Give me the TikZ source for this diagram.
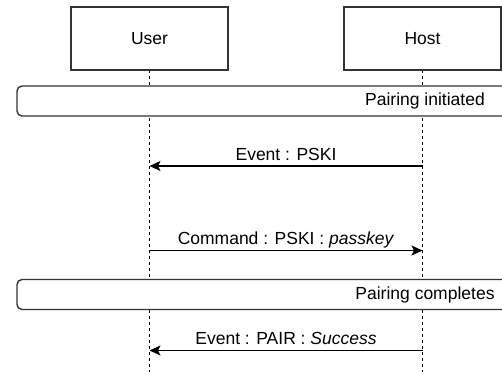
\documentclass[tikz,border=0pt]{standalone}
\usepackage{fontspec}
\setmainfont{Liberation Sans}
\usetikzlibrary{arrows.meta}
\begin{document}
\begin{tikzpicture}[x=1pt,y=-1pt,
  every node/.style={font=\fontsize{17.5}{21}\selectfont, text=black},
  actor/.style={draw=black!80, line width=1.4pt, fill=white, minimum width=157pt, minimum height=63pt, inner sep=0pt},
  grp/.style={draw=black!80, line width=1.4pt, fill=white, rounded corners=5pt, minimum width=816pt, minimum height=30pt, inner sep=0pt},
  life/.style={draw=black, line width=0.9pt, dash pattern=on 3pt off 3pt},
  msg/.style={draw=black, line width=1.4pt, -{Stealth[length=11pt,width=10pt,inset=2.5pt]}},
  lbl/.style={anchor=base, yshift=6pt, inner sep=0pt}
]
\useasboundingbox (0,0) rectangle (502,372);
\clip (0,0) rectangle (502,372);
% lifeline ends
\coordinate (ub) at (149.5,372);
\coordinate (hb) at (422.5,372);
\draw[life] (149.5,70) -- (ub);
\draw[life] (422.5,70) -- (hb);
% actors
\node[actor] (user) at (149.5,38.5) {User};
\node[actor] (host) at (422.5,38.5) {Host};
% groups
\node[grp] (g1) at (425,101) {Pairing initiated};
\node[grp] (g2) at (425,294.5) {Pairing completes};
% message points
\coordinate (h1) at (422.5,166);
\coordinate (u1) at (149.5,166);
\coordinate (u2) at (149.5,250.5);
\coordinate (h2) at (422.5,250.5);
\coordinate (h3) at (422.5,350.5);
\coordinate (u3) at (149.5,350.5);
\draw[msg] (h1) -- node[lbl] (m1) {Event : PSKI} (u1);
\draw[msg] (u2) -- node[lbl] (m2) {Command : PSKI : \textit{passkey}} (h2);
\draw[msg] (h3) -- node[lbl] (m3) {Event : PAIR : \textit{Success}} (u3);
\end{tikzpicture}
\end{document}
